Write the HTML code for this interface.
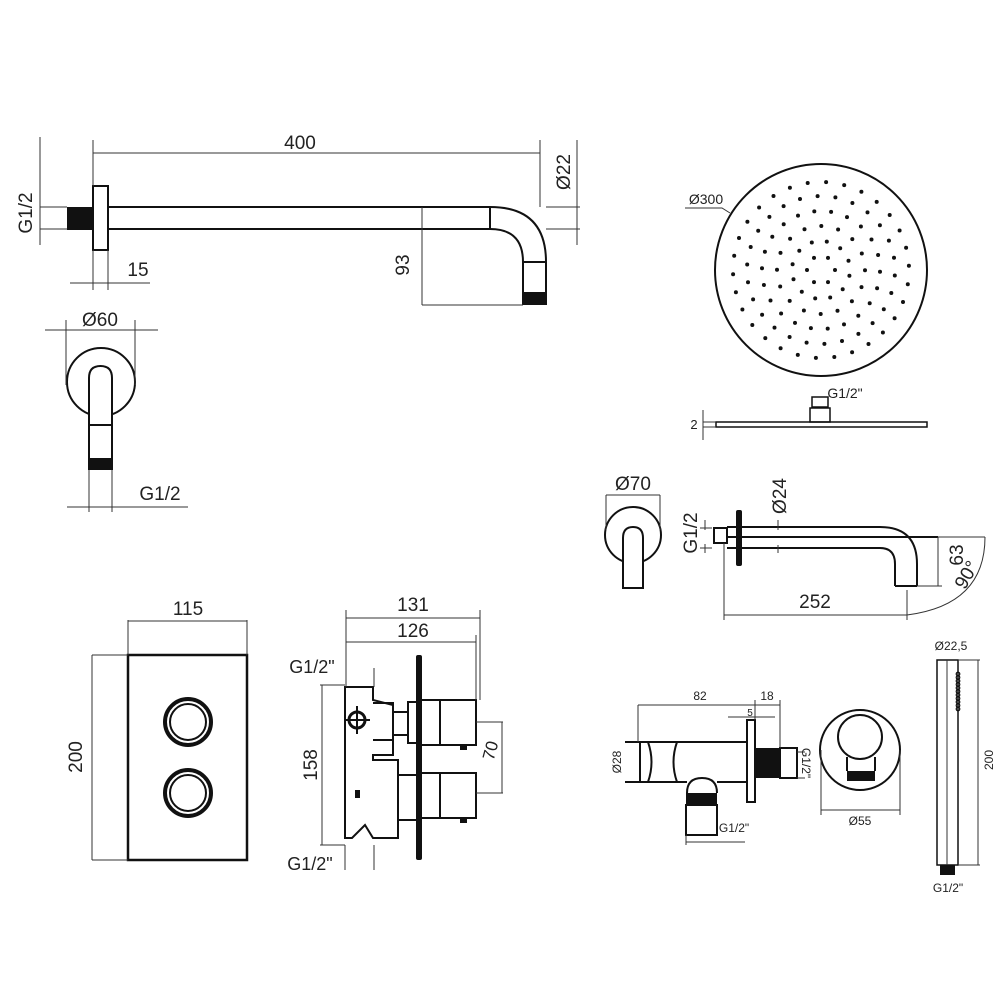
<!DOCTYPE html>
<html><head><meta charset="utf-8"><style>
body{margin:0;background:#fff}
svg{display:block}
text{font-family:"Liberation Sans","DejaVu Sans",sans-serif;fill:#222}
.l{stroke:#111;stroke-width:2;fill:none}
.t{stroke:#333;stroke-width:1;fill:none}
.b{fill:#111}
</style></head><body>
<svg width="1000" height="1000" viewBox="0 0 1000 1000" xmlns="http://www.w3.org/2000/svg">
<!-- Top shower arm -->
<rect x="93" y="186" width="15" height="64" class="l"/>
<rect x="67" y="207" width="26" height="23" class="b"/>
<path class="l" d="M108 207 H490 M108 229 H490 M490 207 V229"/>
<path class="l" d="M490 207 Q546 207 546 262 V305 M490 229 Q523 229 523 262 V305 M523 262 H546"/>
<rect x="523" y="292" width="23" height="13" class="b"/>
<path class="t" d="M93 140 V186 M93 153 H540 M540 140 V207 M546 207 H580 M546 229 H580 M577 140 V245"/>
<path class="t" d="M93 250 V290 M108 250 V290 M70 283 H150 M422 207 V305 M422 305 H523 M40 137 V245 M40 207 H67 M40 229 H67"/>
<text x="300" y="149" font-size="19" text-anchor="middle">400</text>
<text x="138" y="276" font-size="19" text-anchor="middle">15</text>
<text transform="translate(409,265) rotate(-90)" font-size="19" text-anchor="middle">93</text>
<text transform="translate(570,172) rotate(-90)" font-size="19" text-anchor="middle">Ø22</text>
<text transform="translate(32,213) rotate(-90)" font-size="19" text-anchor="middle">G1/2</text>
<!-- Ø60 view -->
<circle cx="101" cy="382" r="34" class="l"/>
<path class="l" d="M89 470 V378 Q89 366 100.5 366 Q112 366 112 378 V470 M89 425 H112" style="fill:#fff"/>
<rect x="89" y="458" width="23" height="12" class="b"/>
<path class="t" d="M66 320 V385 M135 320 V385 M45 330 H158 M89 470 V512 M112 470 V512 M67 507 H188"/>
<text x="100" y="326" font-size="19" text-anchor="middle">Ø60</text>
<text x="160" y="500" font-size="19" text-anchor="middle">G1/2</text>
<!-- shower head -->
<circle cx="821" cy="270" r="106" class="l"/>
<g id="dots"></g>
<path class="t" d="M685 208 H722 L730 213"/>
<text x="706" y="204" font-size="14" text-anchor="middle">Ø300</text>
<rect x="716" y="422" width="211" height="5" class="l" style="stroke-width:1.5"/>
<rect x="810" y="408" width="20" height="14" class="l" style="stroke-width:1.5"/>
<rect x="812" y="397" width="16" height="10" class="l" style="stroke-width:1.5"/>
<path class="t" d="M703 410 V440 M703 422 H716 M703 427 H716"/>
<text x="845" y="398" font-size="14" text-anchor="middle">G1/2"</text>
<text x="694" y="429" font-size="13" text-anchor="middle">2</text>
<!-- Ø70 view -->
<circle cx="633" cy="535" r="28" class="l"/>
<path class="l" d="M623 588 V538 Q623 527 633 527 Q643 527 643 538 V588 Z" style="fill:#fff"/>
<path class="t" d="M606 495 H660 M606 495 V530 M660 495 V530"/>
<text x="633" y="490" font-size="19" text-anchor="middle">Ø70</text>
<!-- spout -->
<rect x="714" y="528" width="13" height="15" class="l"/>
<path class="l" d="M727 527 H880 Q917 527 917 564 V586 M727 548 H880 Q895 548 895 564 V586 M895 586 H917 M727 537 H938"/>
<rect x="736" y="510" width="6" height="56" rx="2" class="b"/>
<path class="t" d="M724 543 V620 M907 590 V620 M724 615 H907 M917 586 H942 M938 537 V586 M938 537 H985 M985 537 Q985 605 907 615 M705 520 V530 M705 544 V553 M700 528 H712 M700 548 H712 M778 520 V530 M778 545 V553"/>
<text x="815" y="608" font-size="19" text-anchor="middle">252</text>
<text transform="translate(963,555) rotate(-90)" font-size="19" text-anchor="middle">63</text>
<text transform="translate(972,578) rotate(-60)" font-size="19" text-anchor="middle">90°</text>
<text transform="translate(786,496) rotate(-90)" font-size="19" text-anchor="middle">Ø24</text>
<text transform="translate(697,533) rotate(-90)" font-size="19" text-anchor="middle">G1/2</text>
<!-- plate -->
<rect x="128" y="655" width="119" height="205" class="l" style="stroke-width:2.5"/>
<circle cx="188" cy="722" r="23" class="l" style="stroke-width:4"/>
<circle cx="188" cy="722" r="18" class="l" style="stroke-width:2"/>
<circle cx="188" cy="793" r="23" class="l" style="stroke-width:4"/>
<circle cx="188" cy="793" r="18" class="l" style="stroke-width:2"/>
<path class="t" d="M128 620 V655 M247 620 V655 M128 621 H247 M92 655 H128 M92 860 H128 M92 655 V860"/>
<text x="188" y="615" font-size="19" text-anchor="middle">115</text>
<text transform="translate(82,757) rotate(-90)" font-size="19" text-anchor="middle">200</text>
<!-- valve body -->
<path class="l" d="M345 687 H373 V700 L393 705 V755 H373 V760 H398 V838 H373 L365 825 L352 838 H345 Z"/>
<path class="l" d="M373 703 H393 V740 H373 M393 712 H408 V735 H393"/>
<rect x="408" y="702" width="12" height="41" class="l"/>
<rect x="420" y="700" width="56" height="45" class="l"/>
<rect x="398" y="775" width="22" height="45" class="l"/>
<rect x="420" y="773" width="56" height="45" class="l"/>
<path class="l" d="M440 745 V700 M440 773 V818"/>
<rect x="416" y="655" width="6" height="205" rx="2" class="b"/>
<circle cx="357" cy="720" r="8" class="l" style="stroke-width:3"/>
<path class="l" d="M357 706 V734 M345 720 H370"/>
<rect x="355" y="790" width="5" height="8" class="b"/>
<rect x="460" y="745" width="7" height="5" class="b"/>
<rect x="460" y="818" width="7" height="5" class="b"/>
<path class="t" d="M346 610 V687 M480 610 V700 M346 618 H480 M476 635 V700 M346 642 H476 M320 685 H345 M320 845 H345 M322 685 V845 M476 722 H503 M476 793 H503 M502 722 V793 M374 668 V687 M345 845 V870 M374 845 V870"/>
<text x="413" y="611" font-size="19" text-anchor="middle">131</text>
<text x="413" y="637" font-size="19" text-anchor="middle">126</text>
<text transform="translate(317,765) rotate(-90)" font-size="19" text-anchor="middle">158</text>
<text transform="translate(496,752) rotate(-75)" font-size="17" text-anchor="middle">70</text>
<text x="312" y="673" font-size="18" text-anchor="middle">G1/2"</text>
<text x="310" y="870" font-size="18" text-anchor="middle">G1/2"</text>
<!-- wall outlet -->
<path class="l" d="M625 742 H747 V782 H717 M687 782 H625 Z M640 742 V782"/>
<path class="l" d="M648 742 Q655 762 648 782 M677 742 Q670 762 677 782"/>
<path class="l" d="M687 793 Q687 778 702 778 Q717 778 717 793"/>
<rect x="686" y="793" width="31" height="12" class="b"/>
<rect x="686" y="805" width="31" height="30" class="l"/>
<rect x="747" y="720" width="8" height="82" class="l"/>
<rect x="755" y="748" width="25" height="30" class="b"/>
<rect x="780" y="748" width="17" height="30" class="l"/>
<path class="t" d="M638 705 V742 M755 700 V720 M780 700 V748 M638 705 H755 M755 705 H780 M728 717 H775 M686 835 V845 M686 842 H745 M797 752 H805 M797 778 H805"/>
<text x="700" y="700" font-size="12" text-anchor="middle">82</text>
<text x="767" y="700" font-size="12" text-anchor="middle">18</text>
<text x="750" y="716" font-size="10" text-anchor="middle">5</text>
<text transform="translate(621,762) rotate(-90)" font-size="12" text-anchor="middle">Ø28</text>
<text transform="translate(802,763) rotate(90)" font-size="12" text-anchor="middle">G1/2"</text>
<text x="734" y="832" font-size="12" text-anchor="middle">G1/2"</text>
<!-- Ø55 -->
<circle cx="860" cy="750" r="40" class="l"/>
<circle cx="860" cy="737" r="22" class="l"/>
<path class="l" d="M847 757 V771 M875 757 V771"/>
<rect x="847" y="771" width="28" height="10" class="b"/>
<path class="t" d="M821 750 V815 M900 750 V815 M821 810 H900"/>
<text x="860" y="825" font-size="12" text-anchor="middle">Ø55</text>
<!-- hand shower -->
<rect x="937" y="660" width="21" height="205" class="l" style="stroke-width:1.5"/>
<path class="t" d="M947 660 V865"/>
<g id="noz"></g>
<rect x="940" y="865" width="15" height="10" class="b"/>
<path class="t" d="M958 660 H980 M958 865 H980 M978 660 V865"/>
<text transform="translate(993,760) rotate(-90)" font-size="12" text-anchor="middle">200</text>
<text x="951" y="650" font-size="12" text-anchor="middle">Ø22,5</text>
<text x="948" y="892" font-size="12" text-anchor="middle">G1/2"</text>
</svg>
<script>
var g=document.getElementById('dots'),s='';
var rings=[[14,6],[29,12],[44,16],[59,22],[74,26],[88,30]];
rings.forEach(function(r,i){for(var k=0;k<r[1];k++){var a=2*Math.PI*k/r[1]+i*0.2;s+='<circle cx="'+(821+r[0]*Math.cos(a)).toFixed(1)+'" cy="'+(270+r[0]*Math.sin(a)).toFixed(1)+'" r="2" fill="#111"/>';}});
g.innerHTML=s;
var n='';for(var y=674;y<712;y+=3.5){n+='<circle cx="958" cy="'+y+'" r="1.8" fill="none" stroke="#111" stroke-width="1.2"/>';}
document.getElementById('noz').innerHTML=n;
</script>
</body></html>
